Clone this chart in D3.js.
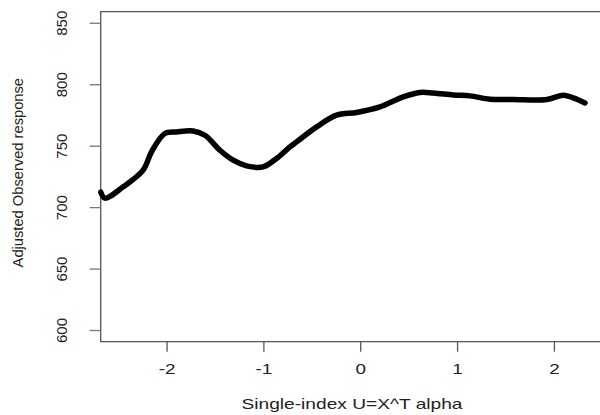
<!DOCTYPE html>
<html>
<head>
<meta charset="utf-8">
<script src="https://cdn.jsdelivr.net/npm/d3@7"></script>
<style>
  body { margin: 0; background: #fff; }
  text { font-family: "Liberation Sans", Arial, sans-serif; fill: #222; }
</style>
</head>
<body>
<div id="chart"></div>
<script>
// single-index fit
let uValues = [-2.679, -2.637, -2.448, -2.242, -2.155, -2.018, -1.897, -1.725, -1.604, -1.449,
    -1.312, -1.174, -1.002, -0.864, -0.726, -0.657, -0.450, -0.244, -0.037, 0.204,
    0.444, 0.617, 0.754, 0.961, 1.133, 1.340, 1.581, 1.926, 2.097, 2.200, 2.321];
let responseValues = [712.2, 707.3, 716.5, 730.1, 745.0, 759.9, 761.2, 762.0, 758.5, 746.3,
    738.2, 733.6, 732.8, 739.6, 749.0, 753.1, 765.3, 774.8, 777.0, 781.5,
    789.7, 793.3, 792.9, 791.3, 790.5, 787.8, 787.6, 787.6, 791.1, 788.9, 784.8];
let xTicks = [-2, -1, 0, 1, 2];
let yTicks = [600, 650, 700, 750, 800, 850];

let width = 600;
let height = 415;
let plotLeft = 100.7, plotRight = 603, plotTop = 11.7, plotBottom = 341.7;

let svg = d3.select('#chart')
    .append('svg')
    .attr('width', width)
    .attr('height', height);

let x = d3.scaleLinear().domain([-2.68, 2.507]).range([plotLeft, plotRight]);
let y = d3.scaleLinear().domain([590.5, 859]).range([plotBottom, plotTop]);

// frame (right edge falls outside the window)
svg.append('path')
    .attr('d', `M${plotRight},${plotTop}H${plotLeft}V${plotBottom}H${plotRight}`)
    .attr('fill', 'none')
    .attr('stroke', '#555')
    .attr('stroke-width', 1.3);

// x axis - plain hyphen for negatives, like R
let xAxis = svg.append('g')
    .attr('transform', `translate(0,${plotBottom})`)
    .call(d3.axisBottom(x).tickValues(xTicks).tickSize(10).tickPadding(11)
        .tickFormat((d) => String(d)));
xAxis.select('.domain').remove();
xAxis.selectAll('line').attr('stroke', '#555').attr('stroke-width', 1.3);
xAxis.selectAll('text')
    .attr('font-size', 15.5)
    .attr('fill', '#222')
    .attr('transform', 'scale(1.22,1)');

// y axis, labels turned like R does
let yAxis = svg.append('g')
    .attr('transform', `translate(${plotLeft},0)`)
    .call(d3.axisLeft(y).tickValues(yTicks).tickSize(11).tickFormat((d) => String(d)));
yAxis.select('.domain').remove();
yAxis.selectAll('line').attr('stroke', '#777').attr('stroke-width', 1.3);
yAxis.selectAll('text')
    .attr('font-size', 15)
    .attr('fill', '#222')
    .attr('text-anchor', 'middle')
    .attr('x', 0)
    .attr('dy', 0)
    .attr('transform', 'translate(-34,0) rotate(-90)');

svg.append('text')
    .attr('x', 352)
    .attr('y', 408.5)
    .attr('text-anchor', 'middle')
    .attr('font-size', 14.5)
    .attr('textLength', 221)
    .attr('lengthAdjust', 'spacingAndGlyphs')
    .text('Single-index U=X^T alpha');

svg.append('text')
    .attr('transform', `translate(22.5,${(plotTop + plotBottom) / 2 - 4}) rotate(-90)`)
    .attr('text-anchor', 'middle')
    .attr('font-size', 14.7)
    .text('Adjusted Observed response');

let line = d3.line()
    .x((d, i) => x(uValues[i]))
    .y((d) => y(d))
    .curve(d3.curveCatmullRom);

svg.append('path')
    .datum(responseValues)
    .attr('d', line)
    .attr('fill', 'none')
    .attr('stroke', '#000')
    .attr('stroke-width', 5.5)
    .attr('stroke-linejoin', 'round')
    .attr('stroke-linecap', 'round');
</script>
</body>
</html>
